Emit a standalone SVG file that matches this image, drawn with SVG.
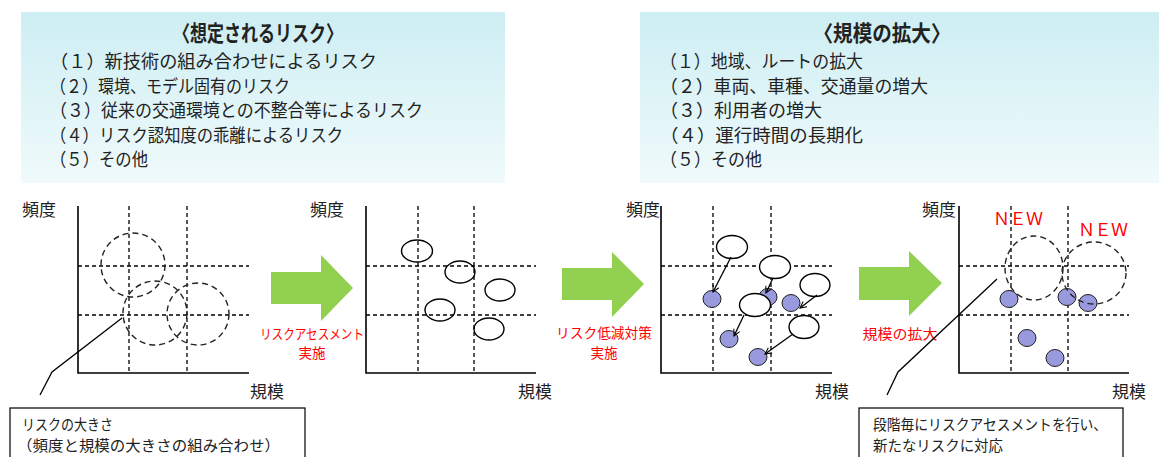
<svg xmlns="http://www.w3.org/2000/svg" width="1159" height="457" viewBox="0 0 1159 457">
<defs>
<linearGradient id="bg" x1="0" y1="0" x2="0" y2="1">
<stop offset="0" stop-color="#cdeef3"/>
<stop offset="1" stop-color="#f0fafb"/>
</linearGradient>
<marker id="ah" viewBox="0 0 10 10" refX="9" refY="5" markerWidth="8" markerHeight="8" orient="auto" markerUnits="userSpaceOnUse">
<path d="M1,1 L9,5 L1,9" fill="none" stroke="#000" stroke-width="1.3"/>
</marker>
<style>
text{font-family:"Noto Sans CJK JP","Noto Sans",sans-serif;fill:#222}
.t{font-size:22px;font-weight:bold;text-anchor:middle}
.li{font-size:18px}
.ax{stroke:#000;stroke-width:1.6;fill:none}
.gd{stroke:#000;stroke-width:1.3;stroke-dasharray:4,3;fill:none}
.dc{stroke:#222;stroke-width:1.4;stroke-dasharray:6,4;fill:none}
.oe{stroke:#000;stroke-width:1.4;fill:#fff}
.fe{stroke:#222;stroke-width:1;fill:#9999dd}
.lbl{font-size:17px}
.red{font-size:13.5px;fill:#ff0000;text-anchor:middle}
.new{font-size:17px;fill:#ff0000}
.ga{fill:#92d050}
.note{font-size:15px}
.box{fill:#fff;stroke:#000;stroke-width:1.2}
.ld{stroke:#000;stroke-width:1.3;fill:none}
</style>
</defs>
<rect width="1159" height="457" fill="#fff"/>

<g id="risk-list">
<rect x="21" y="12" width="484" height="171" fill="url(#bg)"/>
<text class="t" x="258" y="41" textLength="170" lengthAdjust="spacingAndGlyphs">〈想定されるリスク〉</text>
<text class="li" x="50" y="68" textLength="327" lengthAdjust="spacingAndGlyphs">（１）新技術の組み合わせによるリスク</text>
<text class="li" x="50" y="93" textLength="240" lengthAdjust="spacingAndGlyphs">（２）環境、モデル固有のリスク</text>
<text class="li" x="50" y="117" textLength="373" lengthAdjust="spacingAndGlyphs">（３）従来の交通環境との不整合等によるリスク</text>
<text class="li" x="50" y="142" textLength="293" lengthAdjust="spacingAndGlyphs">（４）リスク認知度の乖離によるリスク</text>
<text class="li" x="50" y="166" textLength="98" lengthAdjust="spacingAndGlyphs">（５）その他</text>
</g>

<g id="scale-list">
<rect x="640" y="12" width="519" height="171" fill="url(#bg)"/>
<text class="t" x="882" y="41" textLength="137" lengthAdjust="spacingAndGlyphs">〈規模の拡大〉</text>
<text class="li" x="660" y="68" textLength="203" lengthAdjust="spacingAndGlyphs">（１）地域、ルートの拡大</text>
<text class="li" x="660" y="93" textLength="268" lengthAdjust="spacingAndGlyphs">（２）車両、車種、交通量の増大</text>
<text class="li" x="660" y="117" textLength="162" lengthAdjust="spacingAndGlyphs">（３）利用者の増大</text>
<text class="li" x="660" y="142" textLength="203" lengthAdjust="spacingAndGlyphs">（４）運行時間の長期化</text>
<text class="li" x="660" y="166" textLength="102" lengthAdjust="spacingAndGlyphs">（５）その他</text>
</g>

<g id="chart1">
<line class="gd" x1="129" y1="206" x2="129" y2="373"/>
<line class="gd" x1="187" y1="206" x2="187" y2="373"/>
<line class="gd" x1="78" y1="266" x2="249" y2="266"/>
<line class="gd" x1="78" y1="315" x2="249" y2="315"/>
<path class="ax" d="M78,206 V373 H249"/>
<circle class="dc" cx="133" cy="265" r="32"/>
<circle class="dc" cx="155" cy="313" r="32"/>
<circle class="dc" cx="198" cy="314" r="31"/>
<text class="lbl" x="22" y="216">頻度</text>
<text class="lbl" x="250" y="398">規模</text>
</g>

<g id="chart2">
<line class="gd" x1="418" y1="206" x2="418" y2="373"/>
<line class="gd" x1="474" y1="206" x2="474" y2="373"/>
<line class="gd" x1="366" y1="266" x2="536" y2="266"/>
<line class="gd" x1="366" y1="315" x2="536" y2="315"/>
<path class="ax" d="M366,206 V373 H536"/>
<ellipse class="oe" cx="417" cy="251" rx="15.5" ry="11" fill-opacity="0"/>
<ellipse class="oe" cx="460" cy="272" rx="15" ry="11" fill-opacity="0"/>
<ellipse class="oe" cx="500" cy="290" rx="15" ry="11" fill-opacity="0"/>
<ellipse class="oe" cx="440" cy="310" rx="15" ry="11" fill-opacity="0"/>
<ellipse class="oe" cx="489" cy="329" rx="15" ry="11" fill-opacity="0"/>
<text class="lbl" x="310" y="216">頻度</text>
<text class="lbl" x="518" y="398">規模</text>
</g>

<g id="chart3">
<line class="gd" x1="713" y1="206" x2="713" y2="373"/>
<line class="gd" x1="771" y1="206" x2="771" y2="373"/>
<line class="gd" x1="661" y1="266" x2="832" y2="266"/>
<line class="gd" x1="661" y1="315" x2="832" y2="315"/>
<path class="ax" d="M661,206 V373 H832"/>
<ellipse class="fe" cx="712" cy="299" rx="9" ry="8.5"/>
<ellipse class="fe" cx="768" cy="297" rx="9" ry="8.5"/>
<ellipse class="fe" cx="791" cy="303" rx="9" ry="8.5"/>
<ellipse class="fe" cx="729" cy="339" rx="9" ry="8.5"/>
<ellipse class="fe" cx="758" cy="357" rx="9" ry="8.5"/>
<ellipse class="oe" cx="732" cy="247" rx="15.5" ry="11.5"/>
<ellipse class="oe" cx="775" cy="267" rx="15.5" ry="11.5"/>
<ellipse class="oe" cx="815" cy="285" rx="15" ry="11.5"/>
<ellipse class="oe" cx="755" cy="305" rx="15.5" ry="11.5"/>
<ellipse class="oe" cx="804" cy="327" rx="15" ry="11.5"/>
<text class="lbl" x="626" y="216">頻度</text>
<text class="lbl" x="815" y="398">規模</text>
</g>

<g id="chart4">
<line class="gd" x1="1011" y1="206" x2="1011" y2="373"/>
<line class="gd" x1="1068" y1="206" x2="1068" y2="373"/>
<line class="gd" x1="959" y1="266" x2="1129" y2="266"/>
<line class="gd" x1="959" y1="315" x2="1129" y2="315"/>
<path class="ax" d="M959,206 V373 H1129"/>
<ellipse class="fe" cx="1009" cy="299" rx="9" ry="8.5"/>
<ellipse class="fe" cx="1067" cy="297" rx="9" ry="8.5"/>
<ellipse class="fe" cx="1088" cy="303" rx="9" ry="8.5"/>
<ellipse class="fe" cx="1027" cy="338" rx="9" ry="8.5"/>
<ellipse class="fe" cx="1055" cy="358" rx="9" ry="8.5"/>
<ellipse class="dc" cx="1034" cy="268" rx="29" ry="32"/>
<ellipse class="dc" cx="1094" cy="273" rx="32" ry="31"/>
<text class="new" x="993" y="225" textLength="50">ＮＥＷ</text>
<text class="new" x="1078" y="236" textLength="50">ＮＥＷ</text>
<text class="lbl" x="922" y="216">頻度</text>
<text class="lbl" x="1112" y="398">規模</text>
</g>

<g id="step1">
<polygon class="ga" points="271,272 321,272 321,255 353,288 321,321 321,304 271,304"/>
<text class="red" x="312" y="339" textLength="104" lengthAdjust="spacingAndGlyphs">リスクアセスメント</text>
<text class="red" x="312" y="358">実施</text>
</g>
<g id="step2">
<polygon class="ga" points="562,268 612,268 612,252 644,284 612,317 612,300 562,300"/>
<text class="red" x="604" y="338" textLength="96" lengthAdjust="spacingAndGlyphs">リスク低減対策</text>
<text class="red" x="604" y="358">実施</text>
</g>
<g id="step3">
<polygon class="ga" points="859,267 909,267 909,251 942,283 909,316 909,300 859,300"/>
<text class="red" x="900" y="339" textLength="75" lengthAdjust="spacingAndGlyphs">規模の拡大</text>
</g>

<g id="note1">
<rect class="box" x="10" y="408" width="295" height="60"/>
<text class="note" x="22" y="430" textLength="91" lengthAdjust="spacingAndGlyphs">リスクの大きさ</text>
<text class="note" x="17" y="451" textLength="263" lengthAdjust="spacingAndGlyphs">（頻度と規模の大きさの組み合わせ）</text>
</g>
<g id="note2">
<rect class="box" x="859" y="408" width="264" height="60"/>
<text class="note" x="873" y="430" textLength="234" lengthAdjust="spacingAndGlyphs">段階毎にリスクアセスメントを行い、</text>
<text class="note" x="873" y="451" textLength="130" lengthAdjust="spacingAndGlyphs">新たなリスクに対応</text>
</g>

<g id="connectors">
<polyline class="ld" points="122,318 52,372 40,395"/>
<polyline class="ld" points="997,279 898,372 887,395"/>
<line class="ld" x1="731" y1="257" x2="713" y2="292" marker-end="url(#ah)"/>
<line class="ld" x1="773" y1="278" x2="766" y2="293" marker-end="url(#ah)"/>
<line class="ld" x1="817" y1="295" x2="800" y2="308" marker-end="url(#ah)"/>
<line class="ld" x1="744" y1="315" x2="734" y2="336" marker-end="url(#ah)"/>
<line class="ld" x1="793" y1="334" x2="765" y2="354" marker-end="url(#ah)"/>
</g>
</svg>
